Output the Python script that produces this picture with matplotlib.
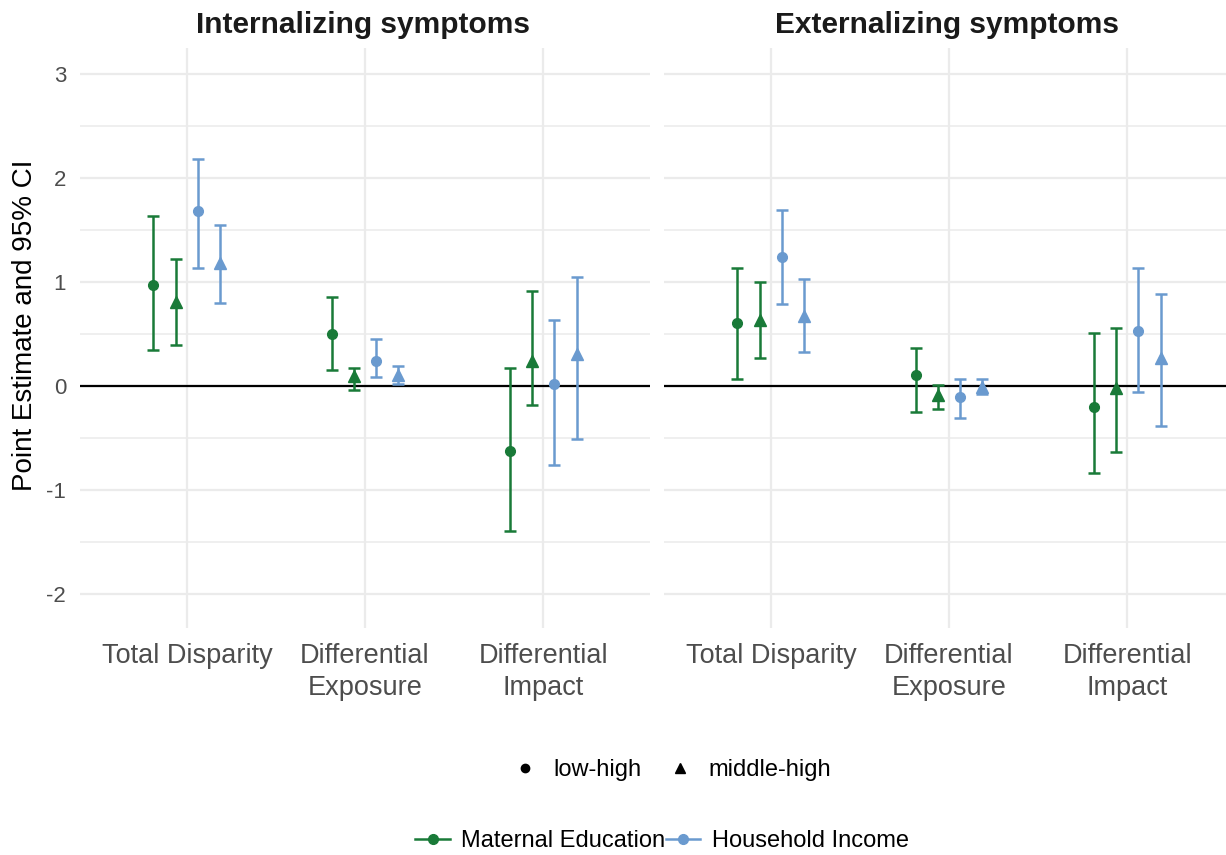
import numpy as np
import matplotlib
matplotlib.use('Agg')
import matplotlib.pyplot as plt
from matplotlib.lines import Line2D

plt.rcParams['font.family'] = ['Liberation Sans', 'DejaVu Sans']
plt.rcParams['axes.unicode_minus'] = False

panels = ['Internalizing symptoms', 'Externalizing symptoms']
categories = ['Total Disparity', 'Differential\nExposure', 'Differential\nImpact']
series = [('Maternal Education', 'low-high'), ('Maternal Education', 'middle-high'),
          ('Household Income', 'low-high'), ('Household Income', 'middle-high')]

# internalizing: estimate, lower, upper (one list per series)
int_est = [[0.97, 0.50, -0.63], [0.81, 0.09, 0.24], [1.68, 0.235, 0.02], [1.18, 0.10, 0.31]]
int_lo = [[0.34, 0.15, -1.40], [0.39, -0.045, -0.185], [1.13, 0.08, -0.76], [0.80, 0.02, -0.51]]
int_hi = [[1.63, 0.85, 0.17], [1.22, 0.17, 0.91], [2.18, 0.45, 0.63], [1.55, 0.19, 1.05]]

# externalizing
ext_est = [[0.605, 0.10, -0.20], [0.635, -0.09, -0.02], [1.24, -0.11, 0.53], [0.67, -0.01, 0.27]]
ext_lo = [[0.07, -0.25, -0.84], [0.27, -0.22, -0.64], [0.79, -0.31, -0.06], [0.33, -0.08, -0.39]]
ext_hi = [[1.135, 0.36, 0.51], [1.00, 0.01, 0.56], [1.69, 0.07, 1.13], [1.03, 0.065, 0.88]]

colors = {'Maternal Education': '#197A38', 'Household Income': '#6A9ACF'}
markers = {'low-high': 'o', 'middle-high': '^'}
msizes = {'low-high': 7, 'middle-high': 8.5}
offsets = [-0.1875, -0.0625, 0.0625, 0.1875]

W, H = 1226, 855
fig = plt.figure(figsize=(W / 100, H / 100), dpi=100)

ax_left = fig.add_axes([80 / W, 227 / H, 570 / W, 580 / H])
ax_right = fig.add_axes([664 / W, 227 / H, 570 / W, 580 / H])

data = [(int_est, int_lo, int_hi), (ext_est, ext_lo, ext_hi)]
x = np.arange(1, len(categories) + 1)

for ax, title, (est, lo, hi), cx in zip([ax_left, ax_right], panels, data, [363, 947]):
    ax.set_xlim(0.4, 3.6)
    ax.set_ylim(-2.33, 3.25)
    ax.set_yticks(range(-2, 4))
    ax.set_yticks(np.arange(-1.5, 3.0, 1.0), minor=True)
    ax.set_xticks(x)
    ax.set_xticklabels(categories, fontsize=19.5, color='#4D4D4D', linespacing=1.3)
    ax.grid(True, which='major', color='#EBEBEB', lw=1.6, zorder=0)
    ax.grid(True, which='minor', axis='y', color='#EBEBEB', lw=1.1, zorder=0)
    ax.tick_params(length=0, which='both')
    ax.tick_params(axis='x', pad=11)
    ax.tick_params(axis='y', pad=10, labelsize=16, labelcolor='#4D4D4D')
    for s in ax.spines.values():
        s.set_visible(False)
    ax.set_axisbelow(True)
    ax.axhline(0, color='black', lw=1.6, zorder=1)

    for i, (grp, contrast) in enumerate(series):
        e = np.array(est[i])
        yerr = [e - np.array(lo[i]), np.array(hi[i]) - e]
        ax.errorbar(x + offsets[i], e, yerr=yerr, fmt=markers[contrast], color=colors[grp],
                    ms=msizes[contrast], elinewidth=1.8, capsize=4.5, capthick=1.8, zorder=3)

    fig.text(cx / W, 1 - 25 / H, title, ha='center', va='center', fontsize=21.5,
             fontweight='bold', color='#1A1A1A')

ax_right.set_yticklabels([])

fig.text(25 / W, 1 - 325 / H, 'Point Estimate and 95% CI', rotation=90, ha='center',
         va='center', fontsize=20)

shape_handles = [Line2D([], [], ls='none', marker=markers[c], color='black', ms=msizes[c] - 1)
                 for c in ['low-high', 'middle-high']]
leg1 = fig.legend(shape_handles, ['low-high', 'middle-high'], loc='center',
                  bbox_to_anchor=(671 / W, 1 - 770 / H), ncol=2, frameon=False, fontsize=17,
                  handlelength=1.2, handletextpad=0.6, columnspacing=1.0)

color_handles = [Line2D([], [], color=colors[g], marker='o', lw=1.8, ms=7)
                 for g in ['Maternal Education', 'Household Income']]
leg2 = fig.legend(color_handles, ['Maternal Education', 'Household Income'], loc='center',
                  bbox_to_anchor=(662 / W, 1 - 841 / H), ncol=2, frameon=False, fontsize=17,
                  handlelength=1.45, handletextpad=0.5, columnspacing=0.0)

fig.savefig('out.png', dpi=100)
